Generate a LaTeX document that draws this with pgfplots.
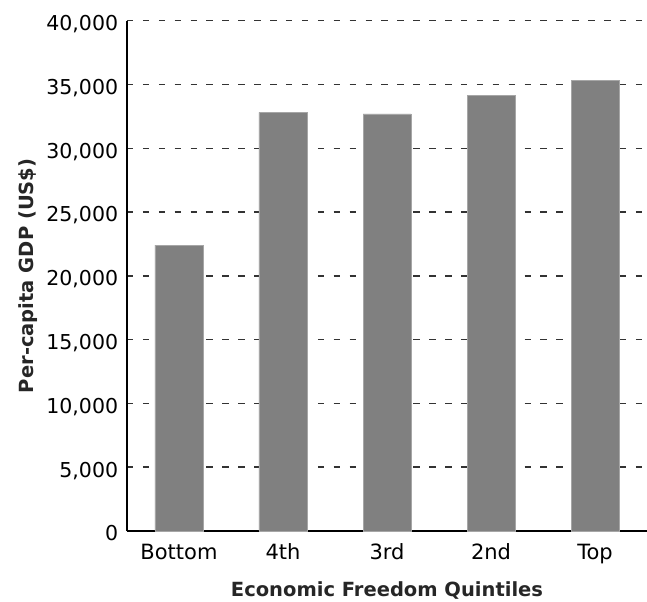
\documentclass[border=0pt]{standalone}
\usepackage{fontspec}
\setmainfont{DejaVu Sans}
\usepackage{pgfplots}
\pgfplotsset{compat=1.18}
\begin{document}
\begin{tikzpicture}
\begin{axis}[
  name=ax,
  scale only axis,
  width=520bp, height=510.3bp,
  xmin=-0.5, xmax=4.5,
  ymin=0, ymax=40000,
  axis x line*=bottom,
  axis y line*=left,
  axis line style={line width=2bp, black},
  xtick={0,1,2,3,4},
  xticklabels={Bottom,4th,3rd,2nd,Top},
  ytick={0,5000,10000,15000,20000,25000,30000,35000,40000},
  scaled y ticks=false,
  /pgf/number format/assume math mode=true,
  /pgf/number format/1000 sep={,},
  major tick length=0pt,
  ymajorgrids=true,
  major grid style={line width=1.5bp, black!80, dash pattern=on 6.5bp off 9.4bp},
  xticklabel style={font=\fontsize{21bp}{25bp}\selectfont, anchor=base, inner sep=0pt, yshift=-28.3bp},
  yticklabel style={font=\fontsize{20.5bp}{24bp}\selectfont, anchor=base east, inner sep=0pt, xshift=-8.7bp, yshift=-9.9bp},
  xlabel={Economic Freedom Quintiles},
  ylabel={Per-capita GDP (US\$)},
  xlabel style={font=\bfseries\fontsize{19.5bp}{23bp}\selectfont, black!85, at={(axis description cs:0.5,0)}, anchor=base, inner sep=0pt, yshift=-65.7bp},
  ylabel style={font=\bfseries\fontsize{19.5bp}{23bp}\selectfont, black!85, at={(axis description cs:-0.17885,0.5)}, rotate=0, anchor=base, inner sep=0pt},
]
\addplot[ybar, bar width=48bp, fill=black!50, draw=black!35, line width=0.5bp] coordinates {
  (0,22400) (1,32810) (2,32700) (3,34170) (4,35350)
};
\end{axis}
\pgfresetboundingbox
\path[use as bounding box] ([xshift=-127bp,yshift=-71bp]ax.south west) rectangle ([yshift=20.7bp]ax.north east);
\end{tikzpicture}
\end{document}
